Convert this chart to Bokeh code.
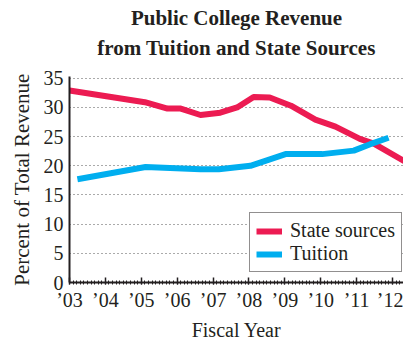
from bokeh.plotting import figure
from bokeh.models import Legend, LegendItem, Range1d, FixedTicker, Title
from bokeh.embed import file_html
from bokeh.resources import INLINE

# Data (fiscal year, percent of total revenue)
state_years = [2003.0, 2005.1, 2005.73, 2006.1, 2006.65, 2007.2, 2007.67, 2008.13,
               2008.58, 2009.17, 2009.85, 2010.41, 2011.09, 2011.48, 2012.33]
state_pct = [32.9, 30.9, 29.8, 29.8, 28.7, 29.1, 30.0, 31.8,
             31.7, 30.3, 27.9, 26.7, 24.6, 23.8, 20.8]
tuition_years = [2003.22, 2005.12, 2006.65, 2007.16, 2008.04, 2009.02, 2010.04,
                 2010.92, 2011.38, 2011.89]
tuition_pct = [17.7, 19.8, 19.4, 19.4, 20.0, 22.0, 22.0, 22.6, 23.7, 24.8]

tick_years = [2003, 2004, 2005, 2006, 2007, 2008, 2009, 2010, 2011, 2012]
tick_labels = ["\u201903", "\u201904", "\u201905", "\u201906", "\u201907",
               "\u201908", "\u201909", "\u201910", "\u201911", "\u201912"]
y_ticks = [0, 5, 10, 15, 20, 25, 30, 35]

title_lines = ["Public College Revenue", "from Tuition and State Sources"]
series_names = ["State sources", "Tuition"]

RED = "#EC1B52"
BLUE = "#00AEEF"
INK = "#231F20"
FONT = "Liberation Serif"

p = figure(width=403, height=343, output_backend="svg", toolbar_location=None,
           x_range=Range1d(2003, 2012.306), y_range=Range1d(0, 35.3),
           min_border_left=69, min_border_right=0, min_border_top=76,
           min_border_bottom=0, title=None)
p.outline_line_color = None
p.background_fill_color = "white"

# Title: two centred lines, second line added first (closest to the frame)
p.add_layout(Title(text=title_lines[1], align="center", text_font=FONT,
                   text_font_size="21px", text_font_style="bold",
                   text_color=INK, standoff=33), "above")
p.add_layout(Title(text=title_lines[0], align="center", text_font=FONT,
                   text_font_size="21px", text_font_style="bold",
                   text_color=INK, standoff=-24), "above")

r_state = p.line(state_years, state_pct, line_color=RED, line_width=6,
                 line_join="round")
r_tuition = p.line(tuition_years, tuition_pct, line_color=BLUE, line_width=6,
                   line_join="round")

# Axes
xa = p.xaxis[0]
xa.ticker = FixedTicker(ticks=tick_years,
                        minor_ticks=[2003 + i / 10 for i in range(94)])
xa.major_label_overrides = {y: l for y, l in zip(tick_years, tick_labels)}
xa.axis_line_color = INK
xa.axis_line_width = 2
xa.major_tick_line_color = INK
xa.major_tick_line_width = 1.5
xa.major_tick_in = 5
xa.major_tick_out = 2
xa.minor_tick_line_color = INK
xa.minor_tick_in = 2
xa.minor_tick_out = 2
xa.major_label_text_font = FONT
xa.major_label_text_font_size = "20px"
xa.major_label_text_color = INK
xa.major_label_standoff = 4
xa.axis_label = "Fiscal Year"
xa.axis_label_text_font = FONT
xa.axis_label_text_font_size = "20px"
xa.axis_label_text_font_style = "normal"
xa.axis_label_text_color = INK
xa.axis_label_standoff = 5

ya = p.yaxis[0]
ya.ticker = FixedTicker(ticks=y_ticks)
ya.axis_line_color = INK
ya.axis_line_width = 2
ya.major_tick_in = 0
ya.major_tick_out = 0
ya.minor_tick_line_color = None
ya.major_label_text_font = FONT
ya.major_label_text_font_size = "20px"
ya.major_label_text_color = INK
ya.major_label_standoff = 6
ya.axis_label = "Percent of Total Revenue"
ya.axis_label_text_font = FONT
ya.axis_label_text_font_size = "21px"
ya.axis_label_text_font_style = "normal"
ya.axis_label_text_color = INK
ya.axis_label_standoff = 7

p.xgrid.grid_line_color = None
p.ygrid.ticker = FixedTicker(ticks=y_ticks[1:])
p.ygrid.grid_line_color = "#555555"
p.ygrid.grid_line_width = 1.2
p.ygrid.grid_line_dash = "1 3"

# Legend
legend = Legend(items=[LegendItem(label=series_names[0], renderers=[r_state]),
                       LegendItem(label=series_names[1], renderers=[r_tuition])],
                location=(180, 10))
legend.label_text_font = FONT
legend.label_text_font_size = "20px"
legend.label_text_color = INK
legend.border_line_color = INK
legend.border_line_width = 1.5
legend.background_fill_alpha = 1
legend.padding = 6
legend.spacing = 0
legend.label_height = 20
legend.glyph_height = 20
legend.glyph_width = 26
legend.label_standoff = 8
legend.margin = 0
p.add_layout(legend, "center")

open("out.html", "w").write(file_html(p, INLINE))
